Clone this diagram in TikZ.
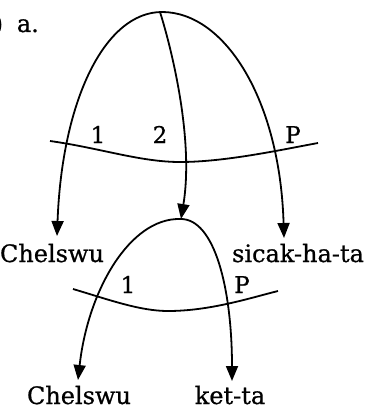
\documentclass[tikz,border=0pt]{standalone}
\usepackage{fontspec}
\setmainfont{DejaVu Serif}
\newfontfamily\reffont{DejaVu Serif}[FakeBold=0.7]
\usetikzlibrary{arrows.meta}
\begin{document}
\begin{tikzpicture}[x=1pt,y=-1pt,line width=1.8pt,
  arr/.style={-{Triangle[length=15pt,width=12pt]}},
  lbl/.style={font=\reffont\fontsize{24}{28}\selectfont,inner sep=0pt,anchor=base},
  num/.style={font=\reffont\fontsize{23}{27}\selectfont,inner sep=0pt,anchor=base}]
\useasboundingbox (0,0) rectangle (366,409);
% heading
\node[lbl,anchor=base east] (paren) at (4,32) {)};
\node[lbl,anchor=base west] (a) at (16,32) {a.};
% upper tree
\coordinate (top) at (162,12);
\coordinate (t1) at (57,236);
\coordinate (t2) at (181,219);
\coordinate (t3) at (284,238);
\draw[arr] (top) .. controls (105,12) and (62,100) .. (t1);
\draw[arr] (top) .. controls (225,12) and (280,100) .. (t3);
\draw[arr] (160,12) .. controls (172,50) and (194,140) .. (t2);
% upper crossing line
\coordinate (u1) at (50,141);
\coordinate (um) at (180,162);
\coordinate (u2) at (318,143);
\draw (u1) .. controls (100,148) and (140,162) .. (um) .. controls (225,162) and (280,150) .. (u2);
\node[num] (n1) at (98,143) {1};
\node[num] (n2) at (160,143) {2};
\node[num] (nP) at (293,143) {P};
% middle labels
\node[lbl] (chel1) at (52,262) {Chelswu};
\node[lbl] (sicak) at (298,262) {sicak-ha-ta};
% lower tree
\coordinate (root2) at (180,219);
\coordinate (b1) at (78,380);
\coordinate (b2) at (232,381);
\draw[arr] (root2) .. controls (130,218) and (88,290) .. (b1);
\draw[arr] (root2) .. controls (215,218) and (232,290) .. (b2);
% lower crossing line
\coordinate (l1) at (73,289);
\coordinate (lm) at (168,311);
\coordinate (l2) at (278,291);
\draw (l1) .. controls (110,300) and (140,311) .. (lm) .. controls (210,311) and (250,298) .. (l2);
\node[num] (m1) at (128,293) {1};
\node[num] (mP) at (242,293) {P};
% bottom labels
\node[lbl] (chel2) at (79,404) {Chelswu};
\node[lbl] (ket) at (230,404) {ket-ta};
\end{tikzpicture}
\end{document}
